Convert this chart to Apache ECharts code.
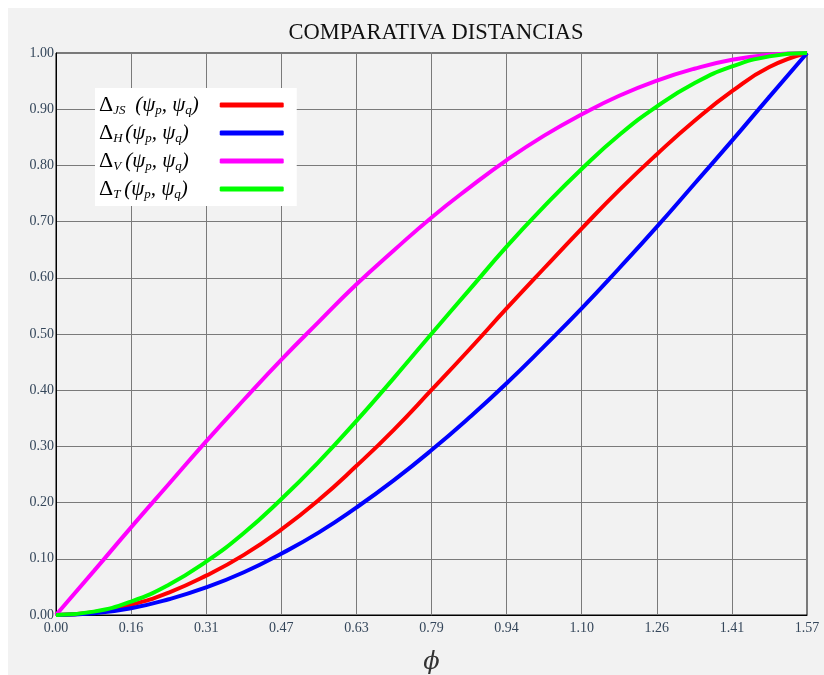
<!DOCTYPE html>
<html>
<head>
<meta charset="utf-8">
<script src="https://cdn.jsdelivr.net/npm/echarts@6/dist/echarts.min.js"></script>
<style>html,body{margin:0;padding:0;background:#fff;}#c{width:824px;height:675px;}</style>
</head>
<body>
<div id="c"></div>
<script>
const phi = [0, 0.079, 0.157, 0.236, 0.314, 0.393, 0.471, 0.550, 0.628, 0.707, 0.785, 0.864, 0.942, 1.021, 1.100, 1.178, 1.257, 1.335, 1.414, 1.492, 1.571];
const dJS = [0, 0.005, 0.018, 0.040, 0.070, 0.107, 0.152, 0.205, 0.265, 0.330, 0.400, 0.472, 0.545, 0.617, 0.688, 0.756, 0.820, 0.879, 0.932, 0.975, 1.000];
const dH  = [0, 0.003, 0.012, 0.028, 0.049, 0.076, 0.109, 0.147, 0.191, 0.240, 0.293, 0.351, 0.412, 0.478, 0.546, 0.617, 0.691, 0.767, 0.844, 0.922, 1.000];
const dV  = [0, 0.078, 0.156, 0.233, 0.309, 0.383, 0.454, 0.522, 0.588, 0.649, 0.707, 0.760, 0.809, 0.853, 0.891, 0.924, 0.951, 0.972, 0.988, 0.997, 1.000];
const dT  = [0, 0.006, 0.024, 0.054, 0.095, 0.146, 0.206, 0.273, 0.345, 0.422, 0.500, 0.578, 0.655, 0.727, 0.794, 0.854, 0.905, 0.946, 0.976, 0.994, 1.000];
const seriesNames = ['JS', 'H', 'V', 'T'];
const seriesColors = ['#ff0000', '#0000ff', '#ff00ff', '#00ff00'];
const seriesData = [dJS, dH, dV, dT];
const xInterval = 0.15708;
const xMax = 10 * xInterval;
const titleText = 'COMPARATIVA DISTANCIAS';
const xName = 'ϕ';

const serif = '"Liberation Serif", "DejaVu Serif", serif';
const subW = { JS: 22, H: 12, V: 12, T: 11 };
const rich = {
  d: { fontFamily: serif, fontSize: 22, lineHeight: 24, color: '#000', align: 'left' },
  p: { fontFamily: serif, fontStyle: 'italic', fontSize: 21, lineHeight: 24, color: '#000', align: 'left' },
  t: { fontFamily: serif, fontStyle: 'italic', fontSize: 13, lineHeight: 12, verticalAlign: 'bottom', color: '#000', align: 'left' }
};
seriesNames.forEach(n => {
  rich['s' + n] = { fontFamily: serif, fontStyle: 'italic', fontSize: 13, lineHeight: 12, verticalAlign: 'bottom', width: subW[n], align: 'left', color: '#000' };
  rich['e' + n] = { fontSize: 10, lineHeight: 24, width: 38 - subW[n] };
});

const chart = echarts.init(document.getElementById('c'));
chart.setOption({
  backgroundColor: '#ffffff',
  animation: false,
  graphic: [{ type: 'rect', z: -10, shape: { x: 8, y: 8, width: 816, height: 667 }, style: { fill: '#f2f2f2' } }],
  title: { text: titleText, left: 431, textAlign: 'center', top: 17,
    textStyle: { fontFamily: serif, fontSize: 22.5, fontWeight: 'normal', color: '#111' } },
  grid: { left: 56, right: 17, top: 53, bottom: 60, outerBoundsMode: 'none', containLabel: false,
    show: true, borderColor: '#000', borderWidth: 1, backgroundColor: '#f2f2f2' },
  xAxis: {
    type: 'value', min: 0, max: xMax, interval: xInterval,
    name: xName, nameLocation: 'middle', nameGap: 36,
    nameTextStyle: { fontFamily: '"DejaVu Serif", serif', fontStyle: 'italic', fontSize: 24, color: '#333' },
    axisLine: { lineStyle: { color: '#000', width: 1 } },
    axisTick: { show: false },
    splitLine: { show: true, lineStyle: { color: '#7a7a7a', width: 1 } },
    axisLabel: { fontFamily: serif, fontSize: 14, color: '#34465a', margin: 6, formatter: v => v.toFixed(2) }
  },
  yAxis: {
    type: 'value', min: 0, max: 1, interval: 0.1,
    axisLine: { show: true, lineStyle: { color: '#000', width: 1 } },
    axisTick: { show: false },
    splitLine: { show: true, lineStyle: { color: '#7a7a7a', width: 1 } },
    axisLabel: { fontFamily: serif, fontSize: 14, color: '#34465a', margin: 2, formatter: v => v.toFixed(2) }
  },
  legend: {
    orient: 'vertical', left: 95, top: 88, align: 'right',
    backgroundColor: '#ffffff', padding: [6, 13, 5, 4], itemGap: 5,
    itemWidth: 64, itemHeight: 5, icon: 'roundRect',
    selectedMode: false,
    data: seriesNames,
    formatter: n => `{d|Δ}{s${n}|${n}}{p|(ψ}{t|p}{p|, ψ}{t|q}{p|)}{e${n}| }`,
    textStyle: { color: '#000', rich: rich }
  },
  series: seriesNames.map((n, i) => ({
    name: n, type: 'line', smooth: true, symbol: 'none',
    data: phi.map((x, j) => [x, seriesData[i][j]]),
    lineStyle: { color: seriesColors[i], width: 4 },
    itemStyle: { color: seriesColors[i] }
  }))
});
</script>
</body>
</html>
